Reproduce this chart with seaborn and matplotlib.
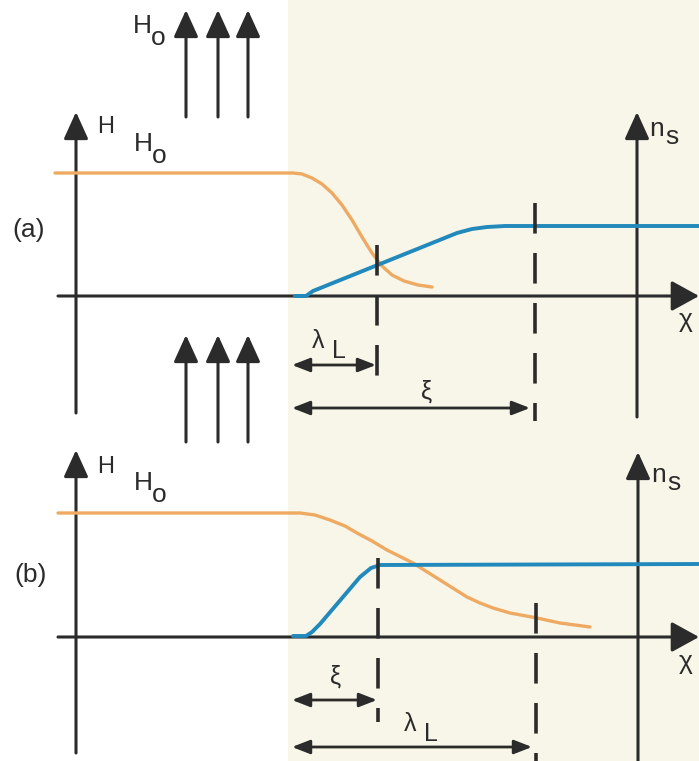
import matplotlib
matplotlib.use("Agg")
import matplotlib.pyplot as plt
import seaborn as sns
import pandas as pd

# ---- profiles (drawing units, y grows downward) ----
# (a) lambda_L < xi
a_field_x = [55, 293, 302, 312, 322, 332, 342, 352, 362, 372, 382, 392, 404, 418, 432]
a_field_y = [173, 173, 174, 178, 184, 193, 205, 220, 237, 253, 266, 275, 281, 285, 287]
a_ns_x = [295, 306, 313, 457, 472, 487, 505, 699]
a_ns_y = [296, 296, 291, 233, 229, 227, 226, 226]
# (b) xi < lambda_L
b_field_x = [58, 300, 315, 330, 345, 357, 372, 387, 413, 440, 467, 480, 493, 510, 537, 560, 590]
b_field_y = [513, 513, 515, 520, 526, 533, 541, 550, 563, 580, 597, 603, 608, 613, 618, 623, 627]
b_ns_x = [293, 306, 312, 320, 360, 371, 380, 699]
b_ns_y = [636, 636, 632, 624, 577, 568, 565, 564]

# marks on the x axis: surface, lambda_L / xi
surface_x = 292
a_marks = {"lam": 376, "xi": 530}
b_marks = {"xi": 377, "lam": 532}

sns.set_style("white")
plt.rcParams["font.family"] = ["Liberation Sans", "DejaVu Sans"]
plt.rcParams["lines.scale_dashes"] = False

INK = "#2b2b2b"
ORANGE = "#eeaa62"
BLUE = "#2189bb"
CREAM = "#f7f6e8"

fig = plt.figure(figsize=(6.99, 7.61), dpi=100)
ax = fig.add_axes([0, 0, 1, 1])

# superconductor region
ax.axvspan(288, 699, color=CREAM, zorder=0, lw=0)

def arrow(x0, y0, x1, y1, hl=1.1, hw=0.5, ms=15, lw=2.2, z=3):
    ax.annotate("", xy=(x1, y1), xytext=(x0, y0),
                arrowprops=dict(arrowstyle=f"-|>,head_length={hl},head_width={hw}",
                                lw=lw, color=INK, shrinkA=0, shrinkB=0,
                                mutation_scale=ms), zorder=z)

def darrow(x0, x1, y):
    ax.annotate("", xy=(x1, y), xytext=(x0, y),
                arrowprops=dict(arrowstyle="<|-|>,head_length=0.9,head_width=0.35",
                                lw=2.0, color=INK, shrinkA=0, shrinkB=0,
                                mutation_scale=12), zorder=4)

def dashed(x, y0, y1, on=22, off=14):
    ax.plot([x, x], [y0, y1], color=INK, lw=2.6,
            linestyle=(0, (on, off)), solid_capstyle="butt", zorder=5)

# applied field arrows
field_x = [186, 218, 248]
for fx in field_x:
    arrow(fx, 117, fx, 10)
    arrow(fx, 442, fx, 335)

# panel (a) axes
arrow(76, 413, 76, 112)
arrow(637, 417, 637, 112)
arrow(58, 296, 699, 296, hl=1.0, hw=0.55, ms=17)
# panel (b) axes
arrow(76, 753, 76, 450)
arrow(638, 761, 638, 452)
arrow(58, 637, 699, 637, hl=1.0, hw=0.55, ms=17)

# curves
curves = [
    (a_field_x, a_field_y, ORANGE, 2.4),
    (a_ns_x, a_ns_y, BLUE, 2.8),
    (b_field_x, b_field_y, ORANGE, 2.4),
    (b_ns_x, b_ns_y, BLUE, 2.8),
]
for xs, ys, c, w in curves:
    df = pd.DataFrame({"x": xs, "y": ys})
    sns.lineplot(data=df, x="x", y="y", ax=ax, color=c, lw=w, sort=False,
                 estimator=None, zorder=4)
ax.set_xlim(0, 699)
ax.set_ylim(761, 0)
ax.axis("off")

# characteristic-length marks
dashed(a_marks["lam"] + 1, 245, 376)
dashed(a_marks["xi"] + 5, 203, 421)
dashed(b_marks["xi"] + 1, 558, 722)
dashed(b_marks["lam"] + 4, 603, 761)

darrow(surface_x, a_marks["lam"], 365)
darrow(surface_x, a_marks["xi"], 408)
darrow(surface_x, b_marks["xi"], 700)
darrow(surface_x, b_marks["lam"], 747)

# labels
T = dict(color=INK, ha="left", va="baseline")
def sub(x, y, main, s, dx, dy, size):
    ax.text(x, y, main, fontsize=size, **T)
    ax.text(x + dx, y + dy, s, fontsize=size, **T)

sub(133, 33, "H", "o", 18, 12, 19)
ax.text(97, 133, "H", fontsize=17, **T)
sub(134, 151, "H", "o", 18, 12, 19)
ax.text(97, 473, "H", fontsize=17, **T)
sub(134, 490, "H", "o", 18, 12, 19)

sub(649, 136, "n", "s", 16, 8, 19)
sub(651, 482, "n", "s", 16, 8, 19)

ax.text(12, 237, "(a)", fontsize=19, **T)
ax.text(14, 582, "(b)", fontsize=19, **T)

ax.text(686, 320, "χ", fontsize=19, color=INK, ha="center", va="center")
ax.text(686, 662, "χ", fontsize=19, color=INK, ha="center", va="center")

sub(312, 348, "λ", "L", 20, 10, 18)
ax.text(427, 392, "ξ", fontsize=18, color=INK, ha="center", va="center")
ax.text(336, 677, "ξ", fontsize=18, color=INK, ha="center", va="center")
sub(404, 731, "λ", "L", 20, 10, 18)

fig.savefig("out.png", dpi=100, facecolor="white")
